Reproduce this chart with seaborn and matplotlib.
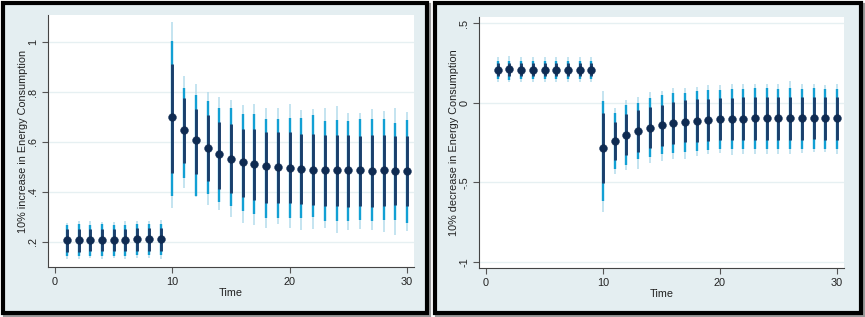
import numpy as np
import pandas as pd
import matplotlib
matplotlib.use("Agg")
import matplotlib.pyplot as plt
from matplotlib.patches import Rectangle
import seaborn as sns

# horizon
time = list(range(1, 31))

# 10% increase in energy consumption (left panel)
inc_est = [0.208, 0.209, 0.209, 0.209, 0.209, 0.210, 0.211, 0.212, 0.212,
           0.701, 0.648, 0.607, 0.576, 0.551, 0.534, 0.519, 0.511, 0.503, 0.499, 0.498,
           0.492, 0.490, 0.488, 0.488, 0.487, 0.487, 0.486, 0.487, 0.486, 0.486]
inc_hi68 = [0.252, 0.253, 0.254, 0.254, 0.252, 0.254, 0.255, 0.255, 0.256,
            0.911, 0.777, 0.734, 0.708, 0.681, 0.674, 0.654, 0.654, 0.639, 0.639, 0.639,
            0.632, 0.631, 0.628, 0.628, 0.630, 0.626, 0.628, 0.627, 0.626, 0.626]
inc_lo68 = [0.160, 0.161, 0.163, 0.163, 0.164, 0.163, 0.165, 0.166, 0.165,
            0.478, 0.515, 0.472, 0.446, 0.413, 0.395, 0.382, 0.369, 0.358, 0.358, 0.358,
            0.352, 0.348, 0.346, 0.346, 0.342, 0.345, 0.342, 0.345, 0.347, 0.343]
inc_hi90 = [0.269, 0.271, 0.270, 0.271, 0.269, 0.270, 0.272, 0.271, 0.273,
            1.004, 0.817, 0.787, 0.765, 0.738, 0.737, 0.714, 0.712, 0.694, 0.694, 0.698,
            0.696, 0.707, 0.686, 0.687, 0.683, 0.691, 0.691, 0.692, 0.676, 0.687]
inc_lo90 = [0.143, 0.144, 0.146, 0.145, 0.146, 0.145, 0.148, 0.147, 0.147,
            0.385, 0.458, 0.386, 0.391, 0.359, 0.345, 0.326, 0.312, 0.296, 0.296, 0.296,
            0.296, 0.300, 0.285, 0.286, 0.285, 0.288, 0.285, 0.290, 0.288, 0.276]
inc_hi95 = [0.278, 0.285, 0.283, 0.281, 0.282, 0.285, 0.285, 0.284, 0.287,
            1.080, 0.863, 0.834, 0.800, 0.780, 0.770, 0.748, 0.752, 0.737, 0.737, 0.751,
            0.727, 0.733, 0.738, 0.745, 0.718, 0.718, 0.731, 0.726, 0.736, 0.722]
inc_lo95 = [0.133, 0.131, 0.135, 0.133, 0.136, 0.132, 0.137, 0.135, 0.134,
            0.335, 0.415, 0.382, 0.349, 0.329, 0.302, 0.278, 0.269, 0.256, 0.272, 0.258,
            0.247, 0.254, 0.258, 0.237, 0.250, 0.252, 0.250, 0.242, 0.230, 0.245]

# 10% decrease in energy consumption (right panel)
dec_est = [0.209, 0.210, 0.209, 0.209, 0.208, 0.208, 0.208, 0.209, 0.208,
           -0.287, -0.238, -0.200, -0.178, -0.157, -0.138, -0.128, -0.119, -0.113, -0.107, -0.100,
           -0.099, -0.099, -0.097, -0.098, -0.098, -0.097, -0.098, -0.098, -0.098, -0.098]
dec_hi68 = [0.250, 0.252, 0.250, 0.251, 0.250, 0.249, 0.250, 0.251, 0.250,
            -0.067, -0.121, -0.069, -0.048, -0.027, -0.013, 0.006, 0.015, 0.021, 0.025, 0.029,
            0.031, 0.035, 0.037, 0.036, 0.034, 0.037, 0.034, 0.036, 0.035, 0.036]
dec_lo68 = [0.167, 0.168, 0.166, 0.167, 0.166, 0.167, 0.166, 0.167, 0.166,
            -0.506, -0.360, -0.328, -0.307, -0.287, -0.272, -0.257, -0.247, -0.245, -0.240, -0.236,
            -0.236, -0.236, -0.233, -0.236, -0.236, -0.235, -0.236, -0.230, -0.235, -0.234]
dec_hi90 = [0.262, 0.265, 0.262, 0.263, 0.262, 0.261, 0.262, 0.263, 0.262,
            0.010, -0.063, -0.017, -0.004, 0.027, 0.046, 0.063, 0.063, 0.073, 0.080, 0.082,
            0.086, 0.088, 0.090, 0.090, 0.088, 0.092, 0.088, 0.090, 0.087, 0.088]
dec_lo90 = [0.148, 0.146, 0.148, 0.147, 0.148, 0.148, 0.147, 0.148, 0.147,
            -0.617, -0.418, -0.391, -0.356, -0.339, -0.324, -0.314, -0.310, -0.303, -0.298, -0.293,
            -0.293, -0.292, -0.290, -0.290, -0.290, -0.289, -0.290, -0.290, -0.290, -0.289]
dec_hi95 = [0.288, 0.292, 0.287, 0.289, 0.288, 0.286, 0.288, 0.290, 0.289,
            0.073, -0.031, 0.020, 0.035, 0.067, 0.073, 0.094, 0.094, 0.100, 0.110, 0.110,
            0.118, 0.120, 0.120, 0.120, 0.120, 0.140, 0.120, 0.120, 0.110, 0.120]
dec_lo95 = [0.131, 0.129, 0.131, 0.130, 0.131, 0.132, 0.130, 0.131, 0.130,
            -0.690, -0.450, -0.420, -0.414, -0.377, -0.366, -0.352, -0.352, -0.335, -0.325, -0.318,
            -0.330, -0.320, -0.320, -0.320, -0.320, -0.325, -0.315, -0.310, -0.310, -0.320]

inc_ticks = [0.2, 0.4, 0.6, 0.8, 1.0]
inc_labels = [".2", ".4", ".6", ".8", "1"]
dec_ticks = [-1.0, -0.5, 0.0, 0.5]
dec_labels = ["-1", "-.5", "0", ".5"]
x_ticks = [0, 10, 20, 30]

sns.set_theme(style="white")
plt.rcParams["font.family"] = ["Liberation Sans", "DejaVu Sans"]

NAVY = "#0f2b52"
DARK = "#1b3f6c"
CYAN = "#12a0d4"
LIGHT = "#b4dcec"
PANEL_BG = "#e4eef1"
FS = 7.8

fig = plt.figure(figsize=(8.65, 3.17), dpi=100)
W, H = 865, 317


def px_rect(x0, y0, x1, y1):
    return (x0 / W, 1 - y1 / H, (x1 - x0) / W, (y1 - y0) / H)


# outer graph regions with black frames and a faint shadow
for (x0, x1) in [(3, 427), (435, 861)]:
    l, b, w, h = px_rect(x0, 3, x1, 313)
    fig.patches.append(Rectangle((l + 2 / W, b - 2 / H), w, h, transform=fig.transFigure,
                                 facecolor="#9a9a9a", edgecolor="#9a9a9a", lw=3, zorder=0))
    fig.patches.append(Rectangle((l, b), w, h, transform=fig.transFigure,
                                 facecolor=PANEL_BG, edgecolor="black", lw=3.0, zorder=1))


def draw_panel(ax, df, ylim, yticks, ylabels, ylabel):
    ax.set_facecolor("white")
    for t in yticks:
        ax.axhline(t, color="#e6f0f2", lw=1.0, zorder=0)
    ax.vlines(df["time"], df["lo95"], df["hi95"], color=LIGHT, lw=1.1, zorder=2)
    ax.vlines(df["time"], df["lo90"], df["hi90"], color=CYAN, lw=1.7, zorder=3)
    ax.vlines(df["time"], df["lo68"], df["hi68"], color=DARK, lw=2.1, zorder=4)
    sns.scatterplot(data=df, x="time", y="est", ax=ax, color=NAVY, s=32,
                    edgecolor=NAVY, linewidth=0.3, zorder=5)
    ax.set_xlim(-0.6, 30.6)
    ax.set_ylim(*ylim)
    ax.set_xticks(x_ticks)
    ax.set_xticklabels([str(t) for t in x_ticks], fontsize=FS)
    ax.set_yticks(yticks)
    ax.set_yticklabels(ylabels, fontsize=FS, rotation=90, va="center")
    ax.tick_params(axis="both", length=4, width=0.8, color="#555555", pad=3,
                   labelcolor="#222222", bottom=True, left=True)
    for side in ["top", "right"]:
        ax.spines[side].set_visible(False)
    for side in ["left", "bottom"]:
        ax.spines[side].set_color("#444444")
        ax.spines[side].set_linewidth(0.8)
    ax.set_xlabel("Time", fontsize=FS, color="#222222", labelpad=1)
    ax.set_ylabel(ylabel, fontsize=FS, color="#222222", labelpad=0)


inc_df = pd.DataFrame({"time": time, "est": inc_est,
                       "lo68": inc_lo68, "hi68": inc_hi68,
                       "lo90": inc_lo90, "hi90": inc_hi90,
                       "lo95": inc_lo95, "hi95": inc_hi95})
dec_df = pd.DataFrame({"time": time, "est": dec_est,
                       "lo68": dec_lo68, "hi68": dec_hi68,
                       "lo90": dec_lo90, "hi90": dec_hi90,
                       "lo95": dec_lo95, "hi95": dec_hi95})

ax1 = fig.add_axes(px_rect(48, 15, 414, 267))
ax1.set_zorder(2)
draw_panel(ax1, inc_df, (0.1, 1.108), inc_ticks, inc_labels,
           "10% increase in Energy Consumption")

ax2 = fig.add_axes(px_rect(479, 17, 844, 268))
ax2.set_zorder(2)
draw_panel(ax2, dec_df, (-1.04, 0.54), dec_ticks, dec_labels,
           "10% decrease in Energy Consumption")

fig.savefig("out.png", dpi=100)
